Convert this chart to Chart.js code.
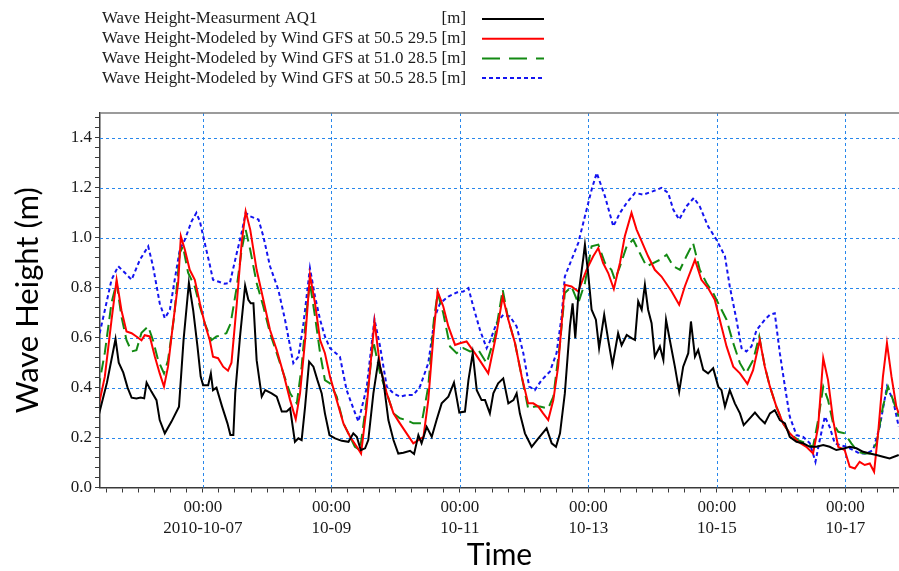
<!DOCTYPE html>
<html>
<head>
<meta charset="utf-8">
<title>Wave Height AQ1</title>
<script src="https://cdn.jsdelivr.net/npm/chart.js@4.4.0/dist/chart.umd.min.js"></script>
<style>
  html, body { margin: 0; padding: 0; background: #fff; }
  #waveChart { display: block; }
</style>
</head>
<body>
<canvas id="waveChart" width="899" height="571"></canvas>
<script>
// Time is counted in hours from 2010-10-05 00:00
const startDate = Date.UTC(2010, 9, 5);

const seriesLabels = [
  'Wave Height-Measurment AQ1',
  'Wave Height-Modeled by Wind GFS at 50.5 29.5',
  'Wave Height-Modeled by Wind GFS at 51.0 28.5',
  'Wave Height-Modeled by Wind GFS at 50.5 28.5'
];
const unitLabel = '[m]';

// Measured wave height AQ1
const measHours = [8.9, 12.2, 15.4, 16.6, 18.3, 19.9, 21.4, 23.2, 24.8, 26.1, 27.0, 28.8, 30.7, 31.9, 33.8, 36.3, 39.1, 40.8, 42.8, 44.4,
  46.0, 47.2, 48.1, 50.0, 51.0, 51.8, 53.1, 55.2, 57.2, 58.3, 59.4, 60.1, 61.9, 63.8, 65.0, 65.9, 66.9, 68.1, 70.0, 71.3,
  73.7, 75.6, 77.5, 79.3, 80.6, 82.4, 83.7, 84.9, 86.2, 87.7, 89.3, 90.8, 92.4, 93.6, 95.3, 97.4, 99.9, 102.4, 104.2, 105.5,
  107.0, 108.6, 109.8, 111.7, 113.6, 115.4, 117.3, 119.2, 121.0, 122.9, 125.4, 126.9, 128.5, 129.7, 131.6, 133.5, 135.3, 137.2, 139.7, 141.8,
  143.8, 145.9, 147.2, 148.8, 150.3, 152.1, 153.4, 155.2, 156.5, 158.3, 160.2, 162.1, 164.0, 165.2, 166.4, 168.3, 170.8, 173.3, 176.4, 178.3,
  179.9, 181.4, 183.2, 185.1, 186.1, 187.1, 188.2, 190.1, 190.7, 191.9, 193.2, 194.8, 196.0, 197.9, 199.4, 201.0, 203.1, 204.4, 206.3, 208.1,
  209.4, 210.6, 211.9, 213.1, 214.3, 215.6, 216.8, 218.7, 220.0, 221.0, 222.4, 224.3, 225.9, 227.4, 229.3, 230.3, 231.8, 233.0, 234.9, 236.7,
  238.6, 240.5, 241.7, 243.0, 244.8, 246.7, 248.6, 250.0, 251.7, 254.2, 256.0, 257.9, 259.8, 261.6, 263.5, 265.4, 267.2, 269.7, 272.2, 274.7,
  277.2, 279.7, 282.1, 284.6, 287.7, 289.6, 292.1, 294.6, 297.1, 299.6, 302.0, 304.5, 307.9];
const measHeight = [0.28, 0.42, 0.595, 0.50, 0.46, 0.40, 0.36, 0.357, 0.36, 0.357, 0.42, 0.384, 0.35, 0.27, 0.217, 0.264, 0.324, 0.59, 0.82, 0.71,
  0.565, 0.444, 0.41, 0.41, 0.457, 0.39, 0.40, 0.324, 0.257, 0.21, 0.21, 0.377, 0.605, 0.808, 0.752, 0.738, 0.738, 0.51, 0.364, 0.39,
  0.377, 0.364, 0.304, 0.304, 0.317, 0.183, 0.197, 0.19, 0.324, 0.504, 0.484, 0.43, 0.377, 0.297, 0.21, 0.197, 0.187, 0.183, 0.217, 0.203,
  0.15, 0.157, 0.19, 0.377, 0.511, 0.43, 0.27, 0.19, 0.136, 0.139, 0.147, 0.134, 0.21, 0.177, 0.243, 0.203, 0.27, 0.337, 0.364, 0.42,
  0.30, 0.304, 0.43, 0.538, 0.39, 0.35, 0.35, 0.297, 0.377, 0.417, 0.437, 0.337, 0.35, 0.377, 0.297, 0.217, 0.163, 0.197, 0.237, 0.177,
  0.163, 0.217, 0.377, 0.645, 0.738, 0.598, 0.765, 0.919, 0.973, 0.859, 0.712, 0.672, 0.558, 0.692, 0.591, 0.491, 0.618, 0.57, 0.611, 0.598,
  0.591, 0.745, 0.712, 0.812, 0.712, 0.658, 0.524, 0.565, 0.511, 0.672, 0.591, 0.484, 0.384, 0.484, 0.538, 0.665, 0.524, 0.551, 0.471, 0.457,
  0.478, 0.404, 0.39, 0.324, 0.39, 0.337, 0.297, 0.25, 0.27, 0.30, 0.277, 0.257, 0.297, 0.31, 0.27, 0.257, 0.203, 0.183, 0.177, 0.163,
  0.163, 0.17, 0.163, 0.15, 0.157, 0.163, 0.157, 0.143, 0.136, 0.13, 0.123, 0.116, 0.13];

// GFS wind at 50.5 29.5
const gfsAHours = [8.9, 11.4, 13.9, 15.8, 17.6, 19.5, 21.4, 23.2, 25.1, 26.3, 28.2, 30.1, 31.9, 33.5, 35.0, 36.9, 38.8, 39.8, 41.3, 43.1,
  45.0, 46.9, 48.7, 50.6, 51.8, 53.7, 55.6, 57.4, 58.7, 60.7, 62.5, 64.0, 65.7, 68.1, 70.6, 73.1, 75.6, 78.1, 80.6, 82.7,
  84.3, 86.2, 88.0, 89.9, 91.8, 93.6, 95.5, 98.0, 100.5, 103.0, 105.5, 107.1, 109.2, 112.1, 114.2, 116.7, 119.2, 121.6, 124.1, 126.6,
  128.5, 130.4, 132.2, 134.1, 135.7, 137.8, 139.7, 142.2, 144.0, 146.5, 149.6, 152.1, 154.6, 157.7, 160.0, 162.1, 164.6, 167.1, 169.5, 171.4,
  173.3, 175.1, 177.0, 178.9, 180.7, 183.2, 185.7, 188.2, 191.3, 193.8, 195.7, 197.5, 199.4, 201.5, 203.8, 205.6, 208.1, 210.0, 211.9, 214.3,
  216.8, 219.3, 223.1, 225.9, 228.0, 231.8, 234.2, 236.7, 239.2, 241.7, 243.6, 246.1, 248.6, 251.4, 253.5, 256.0, 257.9, 259.8, 262.2, 264.7,
  267.2, 270.3, 273.4, 275.9, 277.8, 279.7, 281.5, 283.4, 285.3, 287.7, 289.6, 291.5, 293.3, 295.2, 297.1, 298.7, 300.2, 302.0, 303.5, 305.2,
  307.0, 307.9];
const gfsAHeight = [0.317, 0.444, 0.67, 0.832, 0.71, 0.625, 0.618, 0.605, 0.59, 0.61, 0.605, 0.524, 0.457, 0.404, 0.484, 0.658, 0.82, 1.006, 0.952, 0.872,
  0.832, 0.738, 0.658, 0.59, 0.524, 0.518, 0.484, 0.468, 0.50, 0.738, 0.98, 1.106, 1.033, 0.872, 0.752, 0.631, 0.551, 0.457, 0.35, 0.273,
  0.377, 0.59, 0.852, 0.738, 0.59, 0.538, 0.444, 0.35, 0.257, 0.203, 0.163, 0.136, 0.324, 0.665, 0.484, 0.377, 0.297, 0.257, 0.217, 0.177,
  0.19, 0.203, 0.35, 0.605, 0.785, 0.725, 0.645, 0.571, 0.578, 0.585, 0.538, 0.498, 0.457, 0.618, 0.765, 0.672, 0.578, 0.444, 0.337, 0.337,
  0.324, 0.297, 0.27, 0.35, 0.484, 0.812, 0.805, 0.785, 0.872, 0.926, 0.959, 0.899, 0.859, 0.795, 0.90, 1.006, 1.10, 1.033, 0.986, 0.926,
  0.872, 0.845, 0.785, 0.732, 0.805, 0.912, 0.832, 0.799, 0.752, 0.645, 0.565, 0.484, 0.457, 0.415, 0.47, 0.591, 0.484, 0.404, 0.324, 0.257,
  0.217, 0.183, 0.163, 0.136, 0.243, 0.518, 0.43, 0.27, 0.163, 0.15, 0.083, 0.076, 0.103, 0.09, 0.096, 0.063, 0.217, 0.444, 0.578, 0.444,
  0.324, 0.297];

// GFS wind at 51.0 28.5
const gfsBHours = [8.9, 11.4, 13.9, 15.8, 17.6, 19.5, 21.4, 23.2, 25.1, 27.6, 29.4, 31.3, 33.5, 35.0, 37.3, 39.4, 40.6, 42.5, 45.0, 46.9,
  48.7, 51.2, 53.1, 54.9, 56.8, 58.4, 60.7, 62.5, 64.0, 65.7, 68.1, 70.6, 73.1, 75.6, 78.1, 80.6, 83.1, 84.9, 86.8, 88.0,
  89.9, 91.8, 93.6, 95.5, 98.0, 100.5, 103.0, 104.8, 106.7, 109.2, 111.7, 114.2, 116.7, 119.2, 121.6, 124.1, 126.6, 129.7, 132.2, 134.3,
  135.7, 137.8, 140.3, 142.8, 145.3, 147.8, 150.9, 154.0, 157.1, 160.0, 162.1, 164.6, 167.1, 169.5, 172.0, 173.9, 177.0, 178.9, 181.4, 183.2,
  185.7, 188.2, 190.7, 193.2, 195.7, 198.2, 200.6, 201.9, 203.8, 206.3, 208.7, 211.2, 213.7, 216.2, 218.7, 221.2, 223.7, 226.2, 228.6, 231.1,
  233.6, 236.1, 238.6, 241.1, 243.6, 246.1, 248.6, 250.8, 253.5, 255.8, 257.9, 259.8, 262.2, 264.7, 267.2, 270.3, 273.4, 275.9, 277.8, 279.7,
  281.5, 283.4, 285.3, 287.7, 290.2, 292.7, 295.2, 297.1, 299.6, 302.0, 303.9, 305.8, 307.9];
const gfsBHeight = [0.39, 0.54, 0.74, 0.82, 0.685, 0.59, 0.545, 0.55, 0.62, 0.645, 0.59, 0.51, 0.457, 0.51, 0.685, 0.94, 0.966, 0.86, 0.805, 0.725,
  0.658, 0.59, 0.605, 0.61, 0.618, 0.658, 0.805, 0.952, 1.033, 0.952, 0.819, 0.725, 0.618, 0.538, 0.457, 0.377, 0.337, 0.484, 0.712, 0.819,
  0.685, 0.538, 0.43, 0.417, 0.364, 0.257, 0.203, 0.163, 0.15, 0.35, 0.585, 0.457, 0.377, 0.297, 0.277, 0.27, 0.257, 0.257, 0.404, 0.672,
  0.779, 0.698, 0.565, 0.538, 0.558, 0.545, 0.551, 0.498, 0.605, 0.792, 0.672, 0.578, 0.444, 0.317, 0.324, 0.324, 0.317, 0.364, 0.578, 0.779,
  0.805, 0.738, 0.819, 0.966, 0.973, 0.899, 0.872, 0.832, 0.886, 0.966, 0.993, 0.939, 0.886, 0.899, 0.912, 0.932, 0.886, 0.872, 0.926, 0.979,
  0.872, 0.819, 0.779, 0.725, 0.672, 0.578, 0.498, 0.457, 0.51, 0.605, 0.484, 0.404, 0.324, 0.257, 0.217, 0.19, 0.177, 0.163, 0.27, 0.404,
  0.35, 0.257, 0.223, 0.217, 0.177, 0.143, 0.136, 0.136, 0.177, 0.324, 0.404, 0.35, 0.284];

// GFS wind at 50.5 28.5
const gfsCHours = [8.9, 11.4, 13.9, 16.4, 18.9, 21.4, 24.5, 27.6, 29.4, 31.9, 33.8, 35.7, 37.5, 39.4, 41.3, 43.8, 45.6, 46.9, 48.7, 50.6,
  51.8, 53.7, 56.2, 58.1, 60.7, 62.5, 64.0, 65.7, 68.8, 70.6, 73.1, 76.2, 78.7, 81.8, 83.7, 85.6, 88.0, 89.9, 91.8, 93.6,
  95.5, 99.2, 101.7, 104.8, 106.1, 109.2, 112.1, 114.2, 116.7, 119.2, 121.6, 124.1, 126.6, 129.1, 132.2, 134.7, 136.6, 139.7, 142.8, 145.3,
  147.2, 149.0, 151.5, 154.0, 155.2, 157.7, 160.2, 162.7, 165.2, 167.7, 169.9, 172.0, 174.5, 177.6, 180.1, 182.0, 183.2, 185.7, 188.2, 190.7,
  193.2, 195.1, 198.2, 201.3, 203.8, 206.3, 209.4, 212.5, 216.2, 219.3, 221.8, 223.7, 225.9, 228.6, 231.4, 233.6, 236.7, 239.8, 243.0, 244.8,
  247.3, 249.2, 251.0, 252.9, 254.8, 257.9, 259.8, 261.6, 263.5, 265.4, 267.2, 269.7, 272.2, 274.7, 276.8, 278.4, 280.3, 282.1, 284.0, 285.9,
  288.4, 290.9, 293.3, 295.8, 298.3, 300.8, 303.5, 305.8, 307.9];
const gfsCHeight = [0.59, 0.71, 0.832, 0.886, 0.86, 0.832, 0.912, 0.966, 0.886, 0.738, 0.678, 0.712, 0.832, 0.952, 0.993, 1.066, 1.10, 1.066, 0.98, 0.892,
  0.832, 0.825, 0.816, 0.819, 0.94, 1.02, 1.10, 1.086, 1.073, 1.006, 0.886, 0.792, 0.672, 0.498, 0.524, 0.658, 0.879, 0.765, 0.672, 0.605,
  0.558, 0.524, 0.39, 0.30, 0.264, 0.40, 0.674, 0.565, 0.404, 0.377, 0.364, 0.37, 0.37, 0.404, 0.498, 0.685, 0.738, 0.765, 0.781, 0.785,
  0.799, 0.725, 0.631, 0.558, 0.585, 0.658, 0.692, 0.685, 0.645, 0.538, 0.404, 0.39, 0.43, 0.464, 0.538, 0.685, 0.845, 0.912, 0.979, 1.086,
  1.193, 1.26, 1.166, 1.046, 1.10, 1.14, 1.18, 1.173, 1.187, 1.20, 1.18, 1.113, 1.073, 1.126, 1.16, 1.126, 1.046, 0.993, 0.926, 0.805,
  0.672, 0.558, 0.545, 0.565, 0.631, 0.672, 0.692, 0.698, 0.538, 0.404, 0.284, 0.21, 0.203, 0.177, 0.103, 0.19, 0.284, 0.243, 0.177, 0.17,
  0.163, 0.15, 0.136, 0.136, 0.15, 0.243, 0.404, 0.35, 0.243];

const yTicks = { min: 0, max: 1.5, step: 0.04, labelEvery: 0.2 };
const xTicks = { min: 9.6, max: 308, step: 6, labelEvery: 48 };

function toPoints(hours, values) {
  return hours.map((h, i) => ({ x: h, y: values[i] }));
}

function pad2(n) {
  return String(n).padStart(2, '0');
}

// First labelled day carries the year, the rest only month-day
const firstLabelHour = Math.ceil(xTicks.min / xTicks.labelEvery) * xTicks.labelEvery;

function timeLabel(hour) {
  const d = new Date(startDate + hour * 3600 * 1000);
  const hm = pad2(d.getUTCHours()) + ':' + pad2(d.getUTCMinutes());
  let day = pad2(d.getUTCMonth() + 1) + '-' + pad2(d.getUTCDate());
  if (hour === firstLabelHour) day = d.getUTCFullYear() + '-' + day;
  return [hm, day];
}

function isMajor(value, every) {
  const r = value / every;
  return Math.abs(r - Math.round(r)) < 1e-6;
}

const axisColor = '#3a3a3a';

// Dotted grid lines at the labelled ticks only
const majorGrid = {
  id: 'majorGrid',
  beforeDatasetsDraw(chart, args, opts) {
    const { ctx, chartArea, scales } = chart;
    ctx.save();
    ctx.strokeStyle = opts.color;
    ctx.lineWidth = 1;
    ctx.setLineDash(opts.dash);
    ctx.beginPath();
    scales.x.ticks.forEach(t => {
      if (!isMajor(t.value, xTicks.labelEvery)) return;
      const x = Math.round(scales.x.getPixelForValue(t.value)) + 0.5;
      ctx.moveTo(x, chartArea.top);
      ctx.lineTo(x, chartArea.bottom);
    });
    scales.y.ticks.forEach(t => {
      if (!isMajor(t.value, yTicks.labelEvery) || t.value === 0) return;
      const y = Math.round(scales.y.getPixelForValue(t.value)) + 0.5;
      ctx.moveTo(chartArea.left, y);
      ctx.lineTo(chartArea.right, y);
    });
    ctx.stroke();
    ctx.restore();
  }
};

// Legend rows: label, unit column, line sample
const legendRows = {
  id: 'legendRows',
  afterDraw(chart, args, opts) {
    const ctx = chart.ctx;
    ctx.save();
    ctx.font = opts.font;
    ctx.fillStyle = '#1a1a1a';
    ctx.textBaseline = 'middle';
    chart.data.datasets.forEach((ds, i) => {
      const y = opts.top + i * opts.rowHeight;
      ctx.textAlign = 'left';
      ctx.fillText(ds.label, opts.textLeft, y);
      ctx.textAlign = 'right';
      ctx.fillText(unitLabel, opts.unitRight, y);
      ctx.strokeStyle = ds.borderColor;
      ctx.lineWidth = ds.borderWidth;
      ctx.setLineDash(opts.dashes[i]);
      ctx.beginPath();
      ctx.moveTo(opts.lineLeft, y);
      ctx.lineTo(opts.lineRight, y);
      ctx.stroke();
    });
    ctx.restore();
  }
};

// Thin frame line along the top of the plot area
const topFrame = {
  id: 'topFrame',
  afterDraw(chart) {
    const { ctx, chartArea } = chart;
    ctx.save();
    ctx.strokeStyle = '#7a7a7a';
    ctx.lineWidth = 1.5;
    ctx.beginPath();
    ctx.moveTo(chartArea.left, chartArea.top);
    ctx.lineTo(chartArea.right, chartArea.top);
    ctx.stroke();
    ctx.restore();
  }
};

const ctx = document.getElementById('waveChart').getContext('2d');

new Chart(ctx, {
  type: 'line',
  data: {
    datasets: [
      {
        label: seriesLabels[0],
        data: toPoints(measHours, measHeight),
        borderColor: '#000000',
        borderWidth: 2,
        order: 1
      },
      {
        label: seriesLabels[1],
        data: toPoints(gfsAHours, gfsAHeight),
        borderColor: '#ff0000',
        borderWidth: 2,
        order: 2
      },
      {
        label: seriesLabels[2],
        data: toPoints(gfsBHours, gfsBHeight),
        borderColor: '#138a13',
        borderWidth: 2,
        borderDash: [12, 6],
        order: 3
      },
      {
        label: seriesLabels[3],
        data: toPoints(gfsCHours, gfsCHeight),
        borderColor: '#1414f0',
        borderWidth: 2,
        borderDash: [4, 3],
        order: 4
      }
    ]
  },
  options: {
    responsive: false,
    animation: false,
    devicePixelRatio: 1,
    layout: { padding: { top: 113, left: 0, right: 0, bottom: 0 } },
    elements: {
      point: { radius: 0 },
      line: { tension: 0, fill: false }
    },
    plugins: {
      legend: { display: false },
      tooltip: { enabled: false },
      majorGrid: {
        color: 'rgb(40, 135, 235)',
        dash: [3, 3]
      },
      legendRows: {
        font: '16.9px "Liberation Serif"',
        top: 19,
        rowHeight: 19.7,
        textLeft: 102,
        unitRight: 466,
        lineLeft: 482,
        lineRight: 544,
        dashes: [[], [], [18, 9], [4, 3]]
      }
    },
    scales: {
      x: {
        type: 'linear',
        min: xTicks.min,
        max: xTicks.max,
        afterFit(scale) { scale.height = 83.5; },
        border: { color: axisColor, width: 1.5 },
        grid: {
          drawOnChartArea: false,
          color: axisColor,
          tickColor: axisColor,
          tickLength: 5,
          tickWidth: 1
        },
        ticks: {
          stepSize: xTicks.step,
          includeBounds: false,
          autoSkip: false,
          maxRotation: 0,
          padding: 4,
          color: '#1a1a1a',
          font: { family: '"Liberation Serif"', size: 17, lineHeight: 1.25 },
          callback: v => isMajor(v, xTicks.labelEvery) ? timeLabel(v) : ''
        },
        title: {
          display: true,
          text: 'Time',
          color: '#000',
          font: { family: 'Lato', size: 30, lineHeight: 1.0 },
          padding: { top: 0, bottom: 1 }
        }
      },
      y: {
        min: yTicks.min,
        max: yTicks.max,
        afterFit(scale) { scale.width = 100; },
        border: { color: axisColor, width: 1.5 },
        grid: {
          drawOnChartArea: false,
          color: axisColor,
          tickColor: axisColor,
          tickLength: 5,
          tickWidth: 1
        },
        ticks: {
          stepSize: yTicks.step,
          includeBounds: false,
          autoSkip: false,
          padding: 3,
          color: '#1a1a1a',
          font: { family: '"Liberation Serif"', size: 17 },
          callback: v => isMajor(v, yTicks.labelEvery) ? v.toFixed(1) : ''
        },
        title: {
          display: true,
          text: 'Wave Height (m)',
          color: '#000',
          font: { family: 'Lato', size: 31, lineHeight: 1.0 },
          padding: { top: 12, bottom: 0 }
        }
      }
    }
  },
  plugins: [majorGrid, legendRows, topFrame]
});
</script>
</body>
</html>
